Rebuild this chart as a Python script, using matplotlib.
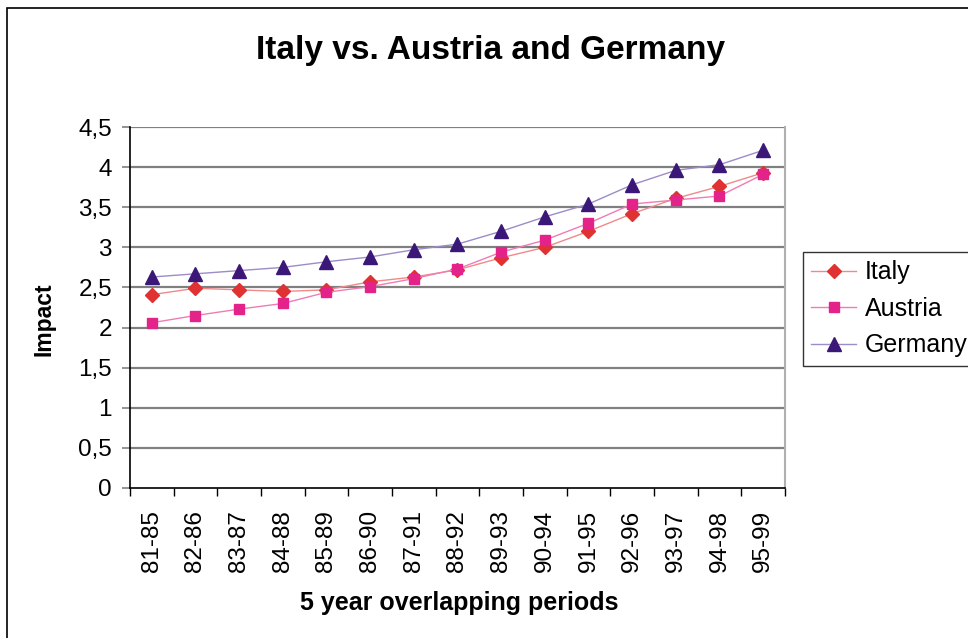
import matplotlib
matplotlib.use("Agg")
import matplotlib.pyplot as plt
from matplotlib.patches import Rectangle
import numpy as np

plt.rcParams['font.family'] = ['Liberation Sans', 'DejaVu Sans']

periods = ["81-85", "82-86", "83-87", "84-88", "85-89", "86-90", "87-91", "88-92",
           "89-93", "90-94", "91-95", "92-96", "93-97", "94-98", "95-99"]
italy = [2.41, 2.49, 2.47, 2.45, 2.47, 2.57, 2.63, 2.72, 2.87, 3.00, 3.20, 3.42, 3.61, 3.76, 3.93]
austria = [2.06, 2.15, 2.23, 2.30, 2.44, 2.51, 2.61, 2.73, 2.94, 3.09, 3.30, 3.54, 3.59, 3.64, 3.91]
germany = [2.63, 2.67, 2.71, 2.75, 2.82, 2.88, 2.97, 3.04, 3.20, 3.38, 3.54, 3.78, 3.96, 4.03, 4.21]

fig = plt.figure(figsize=(9.68, 6.38), dpi=100)
ax = fig.add_axes([130/968, 1-488/638, 655/968, 361/638])

x = np.arange(len(periods))
ax.plot(x, italy, color="#f08a8a", lw=1, marker="D", ms=6.8,
        mfc="#e03232", mec="#e03232", label="Italy", zorder=3)
ax.plot(x, austria, color="#f07cb4", lw=1, marker="s", ms=7.4,
        mfc="#e4238a", mec="#e4238a", label="Austria", zorder=3)
ax.plot(x, germany, color="#9c8cc8", lw=1, marker="^", ms=9.8,
        mfc="#3b1878", mec="#3b1878", label="Germany", zorder=3)

ax.set_xlim(-0.5, len(periods) - 0.5)
ax.set_ylim(0, 4.5)

# gridlines at every half unit
yt = np.arange(0, 4.51, 0.5)
ax.set_yticks(yt)
ax.set_yticklabels([("%g" % v).replace(".", ",") for v in yt], fontsize=17.5)
for v in yt[1:]:
    ax.axhline(v, color="#808080", lw=1.6, zorder=1)
ax.tick_params(axis="y", length=6, width=1.2, color="#808080", pad=7)

# ticks between categories, labels at category centres
ax.set_xticks(np.arange(-0.5, len(periods), 1.0))
ax.set_xticklabels([])
ax.tick_params(axis="x", which="major", length=6, width=1, color="black")
ax.set_xticks(x, minor=True)
ax.set_xticklabels(periods, minor=True, rotation=90, fontsize=17.5)
ax.tick_params(axis="x", which="minor", length=0, pad=16)

ax.spines["left"].set_color("black")
ax.spines["left"].set_linewidth(1.2)
ax.spines["bottom"].set_color("black")
ax.spines["bottom"].set_linewidth(1.2)
ax.spines["right"].set_color("#b0b0b0")
ax.spines["right"].set_linewidth(1.5)
ax.spines["top"].set_visible(False)

ax.set_ylabel("Impact", fontsize=16.5, fontweight="bold")
ax.set_xlabel("5 year overlapping periods", fontsize=18, fontweight="bold")
ax.yaxis.set_label_coords(44/968, 0.5, transform=fig.transFigure)
ax.xaxis.set_label_coords(459/968, 1-603/638, transform=fig.transFigure)
ax.xaxis.label.set_va("center")
ax.yaxis.label.set_va("center")

fig.text(491/968, 1-50/638, "Italy vs. Austria and Germany", fontsize=24,
         fontweight="bold", ha="center", va="center")

leg = ax.legend(loc="upper left", bbox_to_anchor=(803/968, 1-252/638),
                bbox_transform=fig.transFigure, borderaxespad=0, fontsize=18,
                frameon=True, fancybox=False, edgecolor="black",
                handlelength=1.8, handletextpad=0.35, labelspacing=0.5, borderpad=0.33)
leg.get_frame().set_linewidth(1)

# chart area border
fig.patches.append(Rectangle((7/968, -0.1), 1.1, 1.1 - 8/638, transform=fig.transFigure,
                             fill=False, edgecolor="black", lw=1.2))

fig.savefig("out.png", dpi=100)
